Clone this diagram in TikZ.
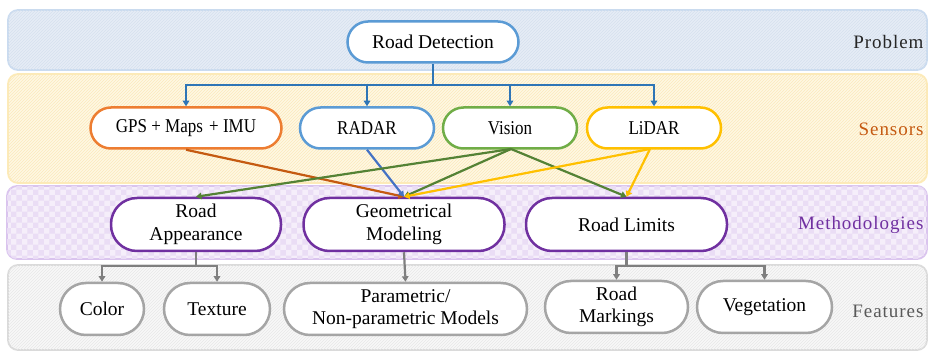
\documentclass[tikz,border=0pt]{standalone}
\usepackage{graphicx}
\usepackage{fontspec}
\setmainfont{Liberation Serif}
\usetikzlibrary{patterns,arrows.meta}
\newcommand\vstretch[1]{\scalebox{1}[1.15]{#1}}
\definecolor{probfill}{HTML}{E6EDF6}
\definecolor{probhatch}{HTML}{D6E0EE}
\definecolor{probline}{HTML}{CADBF0}
\definecolor{senfill}{HTML}{FFF8E3}
\definecolor{senhatch}{HTML}{FBE9BC}
\definecolor{senline}{HTML}{FDEBB8}
\definecolor{metfill}{HTML}{F5EEFA}
\definecolor{methatch}{HTML}{EADDF5}
\definecolor{metline}{HTML}{DAC4EE}
\definecolor{feafill}{HTML}{F8F8F8}
\definecolor{feahatch}{HTML}{E8E8E8}
\definecolor{fealine}{HTML}{DADADA}
\definecolor{cblue}{HTML}{5B9BD5}
\definecolor{cblueline}{HTML}{2E75B6}
\definecolor{cradar}{HTML}{4472C4}
\definecolor{corange}{HTML}{ED7D31}
\definecolor{corangeline}{HTML}{C55A11}
\definecolor{cgreen}{HTML}{70AD47}
\definecolor{cgreenline}{HTML}{548235}
\definecolor{cyellow}{HTML}{FFC000}
\definecolor{cpurple}{HTML}{7030A0}
\definecolor{cgrey}{HTML}{A5A5A5}
\definecolor{cgreyline}{HTML}{7F7F7F}
\begin{document}
\begin{tikzpicture}[x=1pt,y=-1pt,
  band/.style={rounded corners=10pt, line width=1.8pt},
  nd/.style={draw, fill=white, line width=2.5pt, align=center, inner sep=0pt, text=black},
  small/.style={nd, minimum height=41pt, rounded corners=20.5pt, font=\fontsize{17}{19}\selectfont},
  big/.style={nd, minimum height=53pt, rounded corners=26pt, font=\fontsize{19.5}{22.5}\selectfont},
  conn/.style={line width=2.2pt, -{Triangle[width=6.5pt,length=5.5pt]}},
  lab/.style={anchor=east, font=\fontsize{19}{22}\selectfont\addfontfeatures{LetterSpace=5}}
]
\useasboundingbox (0,0) rectangle (929,352);
% bands
\draw[band, draw=probline, fill=probfill, postaction={pattern=north east lines, pattern color=probhatch}] (8,10) rectangle (927,70);
\draw[band, draw=senline, fill=senfill, postaction={pattern=north east lines, pattern color=senhatch}] (8,74) rectangle (927,183);
\draw[band, draw=metline, fill=metfill, postaction={pattern=checkerboard, pattern color=methatch}] (7,186) rectangle (927,259);
\draw[band, draw=fealine, fill=feafill, postaction={pattern=north east lines, pattern color=feahatch}] (8,265) rectangle (927,350);
% labels
\node[lab, text=black!85] (lp) at (927,42) {Problem};
\node[lab, text=corangeline] (ls) at (927,129) {Sensors};
\node[lab, text=cpurple] (lm) at (927,225) {Methodologies};
\node[lab, text=black!65] (lf) at (927,311) {Features};
% nodes
\node[small, draw=cblue, minimum width=171pt, font=\fontsize{19.5}{22}\selectfont] (rd) at (433,42) {Road Detection};
\node[small, draw=corange, minimum width=191pt] (gps) at (186,128) {\vstretch{GPS + Maps\hspace{0.12em} + IMU}};
\node[small, draw=cblue, minimum width=134pt] (radar) at (367,128) {\vstretch{RADAR}};
\node[small, draw=cgreen, minimum width=134pt] (vision) at (510,128) {\vstretch{Vision}};
\node[small, draw=cyellow, minimum width=134pt] (lidar) at (654,128) {\vstretch{LiDAR}};
\node[big, draw=cpurple, minimum width=170pt] (app) at (196,224.5) {Road\\Appearance};
\node[big, draw=cpurple, minimum width=201pt] (geo) at (404,224.5) {Geometrical\\Modeling};
\node[big, draw=cpurple, minimum width=201pt] (lim) at (626.5,224.5) {Road Limits};
\node[big, draw=cgrey, minimum width=84pt, minimum height=52pt] (color) at (102,309) {Color};
\node[big, draw=cgrey, minimum width=106pt, minimum height=52pt] (tex) at (217,309) {Texture};
\node[big, draw=cgrey, minimum width=243pt, minimum height=52pt] (par) at (405.5,309) {Parametric/\\Non-parametric Models};
\node[big, draw=cgrey, minimum width=143pt, minimum height=52pt] (mark) at (616.5,307) {Road\\Markings};
\node[big, draw=cgrey, minimum width=135pt, minimum height=52pt] (veg) at (764.5,307) {Vegetation};
% tree from Road Detection
\coordinate (j0) at (433,85);
\draw[line width=2.2pt, cblueline] (rd.south) -- (j0);
\draw[conn, cblueline] (j0) -| (gps.north);
\draw[conn, cblueline] (j0) -| (radar.north);
\draw[conn, cblueline] (j0) -| (vision.north);
\draw[conn, cblueline] (j0) -| (lidar.north);
% sensors to methodologies
\coordinate (vs) at (511,149);
\coordinate (ls0) at (650,149);
\draw[conn, corangeline] (gps.south) -- (geo.north);
\draw[conn, cradar] (radar.south) -- (geo.north);
\draw[conn, cgreenline] (vs) -- (app.north);
\draw[conn, cgreenline] (vs) -- (geo.north);
\draw[conn, cgreenline] (vs) -- (lim.north);
\draw[conn, cyellow] (ls0) -- (geo.north);
\draw[conn, cyellow] (ls0) -- (lim.north);
% methodologies to features
\coordinate (ja) at (196,266);
\coordinate (jl) at (626.5,266);
\draw[line width=2.6pt, cgreyline] (app.south) -- (ja);
\draw[conn, cgreyline] (ja) -| (color.north);
\draw[conn, cgreyline] (ja) -| (tex.north);
\draw[conn, cgreyline] (geo.south) -- (par.north);
\draw[line width=2.6pt, cgreyline] (lim.south) -- (jl);
\draw[conn, cgreyline] (jl) -| (mark.north);
\draw[conn, cgreyline] (jl) -| (veg.north);
\end{tikzpicture}
\end{document}
